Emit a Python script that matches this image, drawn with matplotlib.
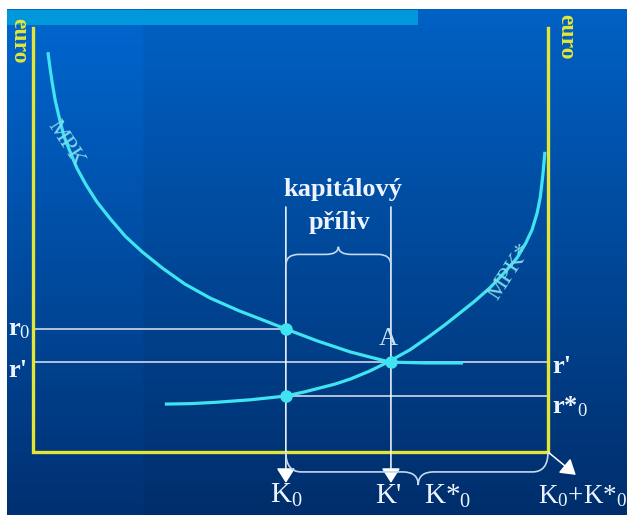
import numpy as np
import matplotlib
matplotlib.use("Agg")
import matplotlib.pyplot as plt
from matplotlib.path import Path
from matplotlib.patches import PathPatch, Rectangle

plt.rcParams['font.family'] = ['Liberation Serif', 'DejaVu Serif']
plt.rcParams['mathtext.fontset'] = 'custom'
plt.rcParams['mathtext.rm'] = 'Liberation Serif'
plt.rcParams['mathtext.it'] = 'Liberation Serif:italic'
plt.rcParams['mathtext.bf'] = 'Liberation Serif:bold'

# MPK (domaci) a MPK* (zahranicni), osa x = kapital, osa y = euro
mpk_k = [2.9, 3.3, 3.7, 4.3, 5.1, 6.0, 7.2, 8.5, 10.3, 12.4, 15.0, 17.9,
         21.2, 25.1, 29.5, 34.4, 40.0, 44.7, 49.1, 55.2, 61.6, 65.4, 69.3,
         76.1, 83.5]
mpk_r = [94.3, 90.6, 87.3, 83.0, 78.8, 74.5, 70.8, 67.0, 63.0, 59.0, 55.0,
         50.9, 47.2, 43.4, 39.6, 36.3, 33.3, 31.1, 29.0, 26.2, 23.6, 22.4,
         21.2, 21.0, 21.0]
mpks_k = [25.6, 30.5, 35.3, 42.1, 49.1, 52.8, 55.7, 58.6, 61.6, 65.4, 68.9,
          73.2, 77.1, 80.0, 82.9, 85.8, 88.7, 91.7, 94.0, 95.7, 96.9, 97.9,
          98.5, 99.0, 99.4]
mpks_r = [11.3, 11.4, 11.7, 12.3, 13.2, 14.2, 15.1, 16.0, 17.2, 19.1, 21.2,
          24.1, 27.4, 30.0, 32.8, 35.6, 38.7, 42.5, 45.8, 49.3, 52.4, 56.4,
          60.1, 65.3, 70.8]

K0 = 49.1        # domaci kapital
K_new = 69.5     # K'
K_total = 100.0  # K0 + K*0
Kstar_pos = 74.8
r0 = 29.0
r_new = 21.2
rstar0 = 13.2

CURVE = '#3fe4f0'
GUIDE = '#cfd9e8'
YELLOW = '#e4e636'
LIGHT = '#eef4ff'

fig = plt.figure(figsize=(6.27, 5.15), dpi=100)
ax = fig.add_axes([0, 0, 1, 1])
ax.set_xlim(-6.41, 115.34)
ax.set_ylim(-14.86, 106.6)
ax.axis('off')

# pozadi - modry prechod
ny, nx = 200, 200
yy = np.linspace(0, 1, ny)[:, None]
xx = np.linspace(0, 1, nx)[None, :]
top = np.array([0.0, 0.38, 0.77])
bot = np.array([0.0, 0.18, 0.42])
img = top * (1 - yy[..., None]) + bot * yy[..., None]
img = img * (1 + 0.06 * (xx[..., None] < 0.22))
img = np.clip(img, 0, 1)
ax.imshow(img, extent=(-5.05, 115.34, -14.86, 104.25), aspect='auto', zorder=0)
ax.add_patch(Rectangle((-5.05, 100.7), 79.8, 3.55, color='#0098da', lw=0, zorder=1))

# osy
ax.plot([0, 0, 100, 100], [100, 0, 0, 100], color=YELLOW, lw=2.4, zorder=3,
        solid_joinstyle='miter')

# vodici cary
ax.plot([0, K0], [r0, r0], color=GUIDE, lw=1.2, zorder=2)
ax.plot([0, 100], [r_new, r_new], color=GUIDE, lw=1.2, zorder=2)
ax.plot([K0, 100], [rstar0, rstar0], color=GUIDE, lw=1.2, zorder=2)
for k in [K0, K_new]:
    ax.annotate('', xy=(k, -7.3), xytext=(k, 57.8),
                arrowprops=dict(arrowstyle='-|>,head_width=0.38,head_length=0.6',
                                color='white', lw=1.1, mutation_scale=15,
                                shrinkA=0, shrinkB=0), zorder=4)
ax.annotate('', xy=(105.4, -5.4), xytext=(K_total, 0),
            arrowprops=dict(arrowstyle='-|>,head_width=0.38,head_length=0.6',
                            color='white', lw=1.1, mutation_scale=15,
                            shrinkA=0, shrinkB=0), zorder=4)

# krivky
ax.plot(mpk_k, mpk_r, color=CURVE, lw=2.3, zorder=5, solid_capstyle='butt',
        solid_joinstyle='round')
ax.plot(mpks_k, mpks_r, color=CURVE, lw=2.3, zorder=5, solid_capstyle='butt',
        solid_joinstyle='round')
ax.plot([K0, K0, K_new], [r0, rstar0, r_new], 'o', color=CURVE, ms=8, zorder=6)


def brace(x0, x1, xm, yb, h, tip, rx):
    verts = [(x0, yb), (x0, h), (x0 + rx, h), (xm - rx, h),
             (xm, h), (xm, tip), (xm, h), (xm + rx, h),
             (x1 - rx, h), (x1, h), (x1, yb)]
    codes = [Path.MOVETO, Path.CURVE3, Path.CURVE3, Path.LINETO,
             Path.CURVE3, Path.CURVE3, Path.CURVE3, Path.CURVE3,
             Path.LINETO, Path.CURVE3, Path.CURVE3]
    return PathPatch(Path(verts, codes), fill=False, ec='#c5d8f0', lw=1.2, zorder=4)


ax.add_patch(brace(K0, K_new, (K0 + K_new) / 2, 44.0, 46.6, 48.4, 2.5))
ax.add_patch(brace(K0, K_total, Kstar_pos, 0, -4.7, -7.8, 3.0))

# popisky
ax.text(60.2, 61.8, 'kapitálový', color=LIGHT, fontsize=19, fontweight='bold',
        ha='center', va='center', zorder=7)
ax.text(59.6, 54.2, 'příliv', color=LIGHT, fontsize=19, fontweight='bold',
        ha='center', va='center', zorder=7)
ax.text(68.9, 26.6, 'A', color='#c8e2f4', fontsize=19, ha='center', va='center', zorder=7)
ax.text(-2.7, 97.0, 'euro', color=YELLOW, fontsize=17, fontweight='bold',
        rotation=-90, ha='center', va='center', zorder=7)
ax.text(103.5, 98.0, 'euro', color=YELLOW, fontsize=17, fontweight='bold',
        rotation=-90, ha='center', va='center', zorder=7)
ax.text(6.4, 72.9, 'MPK', color='#7fd8ea', fontsize=17, rotation=-57,
        ha='center', va='center', zorder=7)
ax.text(92.6, 42.5, 'MPK*', color='#7fd8ea', fontsize=17, rotation=57,
        ha='center', va='center', zorder=7)

ax.text(-4.8, r0, 'r$_0$', color=LIGHT, fontsize=19, fontweight='bold',
        ha='left', va='center', zorder=7)
ax.text(-4.8, r_new - 2.0, "r'", color=LIGHT, fontsize=19, fontweight='bold',
        ha='left', va='center', zorder=7)
ax.text(100.8, r_new - 1.0, "r'", color=LIGHT, fontsize=19, fontweight='bold',
        ha='left', va='center', zorder=7)
ax.text(100.8, rstar0 - 2.5, 'r*$_0$', color=LIGHT, fontsize=19, fontweight='bold',
        ha='left', va='center', zorder=7)

ax.text(K0, -10.3, 'K$_0$', color=LIGHT, fontsize=21, ha='center', va='center', zorder=7)
ax.text(K_new - 0.5, -10.3, "K'", color=LIGHT, fontsize=21, ha='center', va='center', zorder=7)
ax.text(80.6, -10.5, 'K*$_0$', color=LIGHT, fontsize=21, ha='center', va='center', zorder=7)
ax.text(98.0, -10.3, 'K$_0$+K*$_0$', color=LIGHT, fontsize=19.5, ha='left', va='center', zorder=7)

fig.savefig('out.png', dpi=100, facecolor='white')
